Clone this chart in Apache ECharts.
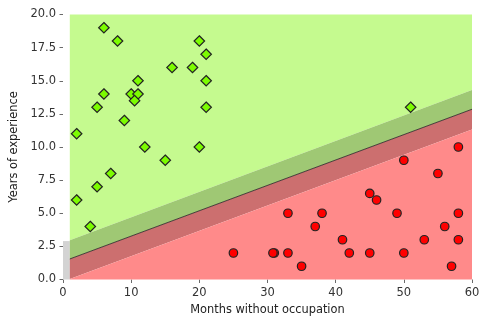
<!DOCTYPE html>
<html>
<head>
<meta charset="utf-8">
<script src="https://cdn.jsdelivr.net/npm/echarts@6/dist/echarts.min.js"></script>
<style>html,body{margin:0;padding:0;background:#fff}#c{width:479px;height:320px}</style>
</head>
<body>
<div id="c"></div>
<script>
// Class "experienced" (green diamonds): [months without occupation, years of experience]
const greenPoints = [
  [6,19],[8,18],[11,15],[6,14],[10,14],[11,14],[10.5,13.5],[5,13],[9,12],[2,11],[12,10],
  [2,6],[5,7],[7,8],[4,4],
  [20,18],[21,17],[16,16],[19,16],[21,15],[21,13],[20,10],[15,9],[51,13]
];
// Class red circles
const redPoints = [
  [25,2],[31,2],[30.8,2],[33,2],[33,5],[37,4],[35,1],[38,5],[41,3],[42,2],[45,2],[45,6.5],
  [46,6],[49,5],[50,2],[50,9],[55,8],[53,3],[56,4],[58,5],[58,3],[57,1],[58,10]
];
// Decision function lines, evaluated at the edges of the shaded grid
const gridX = [1, 60];
const decisionY = [1.55, 12.85];
const upperMarginY = [2.96, 14.3];
const lowerMarginY = [0.04, 11.33];
const yTop = 20, yBottom = 0;
// Uncovered corner (grey)
const greyX = [0, 1];
const greyY = [0, 2.9];

const xTicks = [0, 10, 20, 30, 40, 50, 60];
const yTicks = [0, 2.5, 5, 7.5, 10, 12.5, 15, 17.5, 20];

function polySeries(points, color, z) {
  return {
    type: 'custom', z: z, silent: true,
    data: [0],
    renderItem: function (params, api) {
      return {
        type: 'polygon',
        shape: { points: points.map(p => api.coord(p)) },
        style: { fill: color }
      };
    }
  };
}

const greenRegion = [[gridX[0], upperMarginY[0]], [gridX[1], upperMarginY[1]], [gridX[1], yTop], [gridX[0], yTop]];
const greenMargin = [[gridX[0], decisionY[0]], [gridX[1], decisionY[1]], [gridX[1], upperMarginY[1]], [gridX[0], upperMarginY[0]]];
const redMargin = [[gridX[0], lowerMarginY[0]], [gridX[1], lowerMarginY[1]], [gridX[1], decisionY[1]], [gridX[0], decisionY[0]]];
const redRegion = [[gridX[0], yBottom], [gridX[1], yBottom], [gridX[1], lowerMarginY[1]], [gridX[0], lowerMarginY[0]]];
const greyRect = [[greyX[0], greyY[0]], [greyX[1], greyY[0]], [greyX[1], greyY[1]], [greyX[0], greyY[1]]];

const chart = echarts.init(document.getElementById('c'), null, { renderer: 'canvas' });
const font = 'DejaVu Sans';
chart.setOption({
  animation: false,
  grid: { left: 63, right: 7, top: 14.5, bottom: 40.5, containLabel: false, outerBoundsMode: 'none' },
  xAxis: {
    type: 'value', min: 0, max: 60, interval: 10,
    name: 'Months without occupation', nameLocation: 'middle', nameGap: 25,
    nameTextStyle: { fontFamily: font, fontSize: 11.4, color: '#222' },
    axisLine: { show: false },
    axisTick: { show: true, length: 3.5, lineStyle: { color: '#444', width: 0.8 } },
    axisLabel: { fontFamily: font, fontSize: 11.5, color: '#333', margin: 8 },
    splitLine: { show: false }
  },
  yAxis: {
    type: 'value', min: 0, max: 20, interval: 2.5,
    name: 'Years of experience', nameLocation: 'middle', nameGap: 39,
    nameTextStyle: { fontFamily: font, fontSize: 11.4, color: '#222' },
    axisLine: { show: false },
    axisTick: { show: true, length: 3.5, lineStyle: { color: '#444', width: 0.8 } },
    axisLabel: { fontFamily: font, fontSize: 11.5, color: '#333', margin: 7,
      formatter: v => v.toFixed(1) },
    splitLine: { show: false }
  },
  series: [
    polySeries(greyRect, '#d3d3d3', 1),
    polySeries(greenRegion, '#c5fa8f', 1),
    polySeries(greenMargin, '#9fc874', 1),
    polySeries(redMargin, '#cc6f6f', 1),
    polySeries(redRegion, '#ff8a8a', 1),
    {
      type: 'line', z: 2, silent: true, symbol: 'none',
      data: gridX.map((x, i) => [x, decisionY[i]]),
      lineStyle: { color: '#222', width: 0.8 }
    },
    {
      type: 'scatter', z: 3, symbol: 'diamond', symbolSize: [10.5, 10.5],
      data: greenPoints,
      itemStyle: { color: '#7cfc00', borderColor: '#222', borderWidth: 1.2, opacity: 1 }
    },
    {
      type: 'scatter', z: 3, symbol: 'circle', symbolSize: 8.5,
      data: redPoints,
      itemStyle: { color: '#ff0000', borderColor: '#222', borderWidth: 1.2, opacity: 1 }
    }
  ]
});
</script>
</body>
</html>
